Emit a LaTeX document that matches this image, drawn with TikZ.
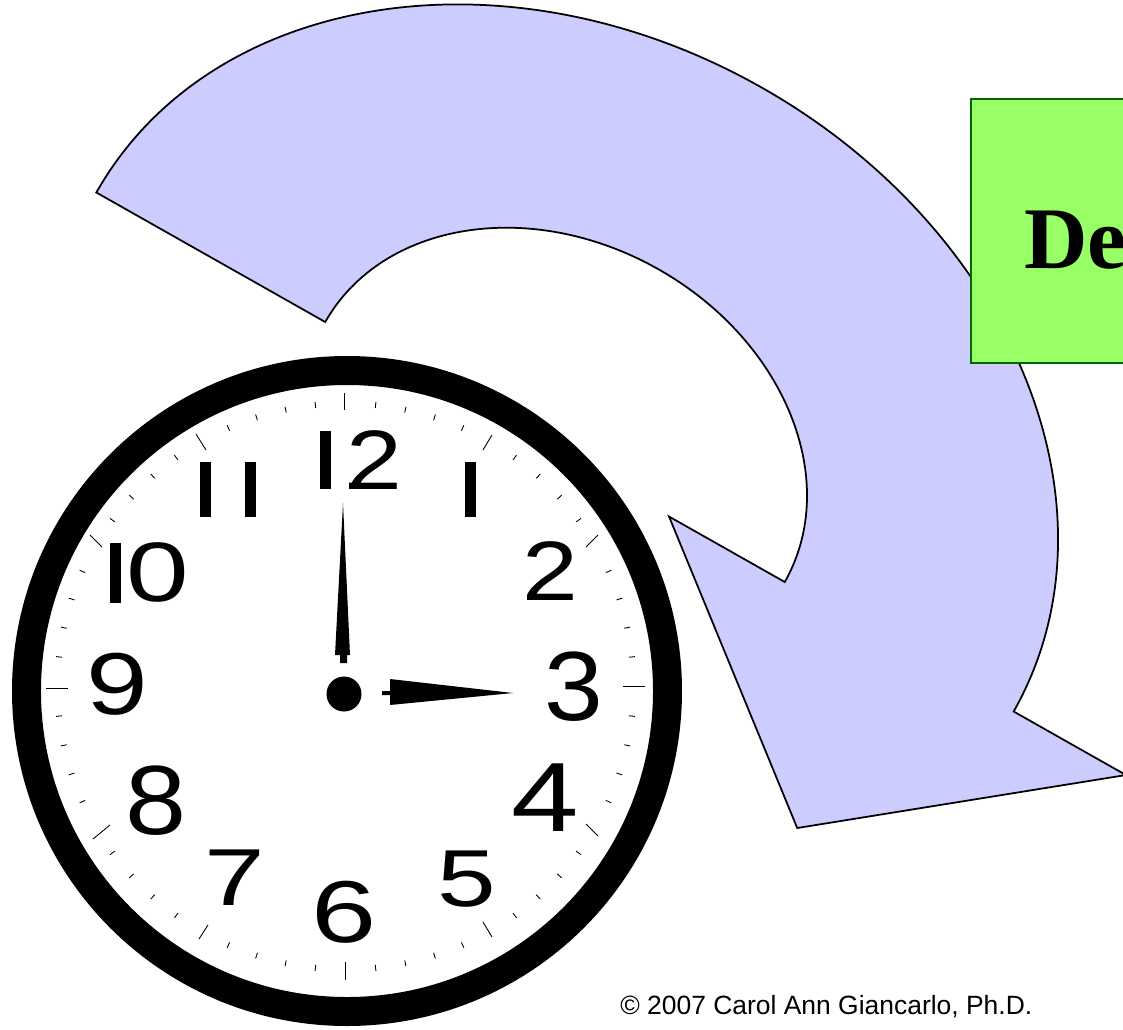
\documentclass[tikz,border=0pt]{standalone}
\usepackage{graphicx}
\usepackage{fontspec}
\setmainfont{Liberation Serif}
\newfontfamily\clockfont[FakeStretch=1.45]{Liberation Sans}
\newfontfamily\notefont{Liberation Sans}
\usepackage{tikz}
\usetikzlibrary{arrows.meta,calc}
\definecolor{arrowblue}{HTML}{CCCCFF}
\definecolor{boxgreen}{HTML}{99FF66}
\definecolor{boxline}{HTML}{006600}
\newcommand{\wideone}{\scalebox{1.25}[1]{1}}

\begin{document}
\begin{tikzpicture}[x=.02cm,y=-.02cm,line join=miter,
  hand/.style={fill=black,draw=none},
  tick/.style={black,line width=.5pt},
  digit/.style={inner sep=0pt,text=black}]
\path[use as bounding box] (0,0) rectangle (1123,1029);
\clip (0,0) rectangle (1123,1029);
\fill[white] (0,0) rectangle (1123,1029);

% bent arrow, half an ellipse on a tilted axis
\begin{scope}[shift={(555,452)},rotate=-29.5]
  \draw[fill=arrowblue,line width=1pt] (-527,0)
    arc[start angle=180,end angle=360,x radius=527,y radius=419]
    --(656,0)--(396,208)--(131,0)--(264,0)
    arc[start angle=360,end angle=180,x radius=264,y radius=210]--cycle;
\end{scope}

% box, runs off the page
\draw[fill=boxgreen,draw=boxline,line width=1pt] (971,99) rectangle (1160,363);
\node[anchor=base west,inner sep=0pt,font=\bfseries\fontsize{50}{50}\selectfont] (boxlabel) at (1024,268) {De};

% clock face
\coordinate (clockmid) at (347,691);
\draw[fill=white,line width=16.5pt] (clockmid) circle[radius=320.5];
\begin{scope}[shift={(345.5,686.5)}]
  \foreach \h in {0,30,...,330}
    \foreach \m in {6,12,18,24} {
      \pgfmathsetmacro{\a}{\h+\m}
      \draw[tick] (\a:291 and 286)--(\a:285 and 280);
    }
\end{scope}
% hour marks are not quite radial
\foreach \xa/\ya/\xb/\yb in {344/393/344/410,492/435/483/450,598/535/586/547,645/686/623/686,
  598/836/586/824,492/937/483/922,345/980/345/962,199/939/208/925,93/839/110/825,
  46/688/68/688,90/535/102/547,196/434/206/450}
  \draw[tick] (\xa,\ya)--(\xb,\yb);

% digits
\foreach \lbl/\x/\y/\sz/\sx in {2/550/571/48/.82,3/574/687/56/.74,4/545/798/56/.85,5/467/879/46/.9,
  6/344/912/50/.92,7/235/878/46/.93,8/156/801/56/.77,9/117/684/50/.87}
  \node[digit,font=\clockfont\fontsize{\sz}{\sz}\selectfont] (num\lbl) at (\x,\y) {\scalebox{\sx}[1]{\lbl}};
% the ones are plain bars
\begin{scope}
  \clip (320,431) rectangle (330,490) (349,425) rectangle (405,495);
  \node[digit,font=\clockfont\fontsize{48}{48}\selectfont] (num12) at (341.2,460) {\wideone\kern-11.15pt\scalebox{.82}[1]{2}};
\end{scope}
\begin{scope}
  \clip (200,462) rectangle (210,518) (245,462) rectangle (255,518);
  \node[digit,font=\clockfont\fontsize{46}{46}\selectfont] (num11) at (225.5,490) {\wideone\kern-20.5pt\wideone};
\end{scope}
\begin{scope}
  \clip (465.5,462) rectangle (475.5,518);
  \node[digit,font=\clockfont\fontsize{46}{46}\selectfont] (num1) at (468.5,490) {\wideone};
\end{scope}
\begin{scope}
  \clip (110,543) rectangle (120,602) (127,530) rectangle (195,602);
  \node[digit,anchor=base,font=\clockfont\fontsize{48}{48}\selectfont] (num10) at (129.95,601)
    {\raisebox{-7pt}{\scalebox{1.25}[1.3]{1}}\kern-16.45pt\scalebox{.92}[1]{0}};
\end{scope}

% hands and hub
\fill[hand] (343,503)--(350,655)--(347,655)--(347,663)--(340,663)--(340,655)--(335,655)--cycle;
\fill[hand] (513,693)--(390,705)--(390,695)--(382,695)--(382,691)--(390,691)--(390,679)--cycle;
\fill[hand] (344,694) circle[radius=17.5];

\node[anchor=base west,inner sep=0pt,font=\notefont\fontsize{15.05}{18}\selectfont] (copyline) at (620,1014)
  {© 2007 Carol Ann Giancarlo, Ph.D.};
\end{tikzpicture}
\end{document}
